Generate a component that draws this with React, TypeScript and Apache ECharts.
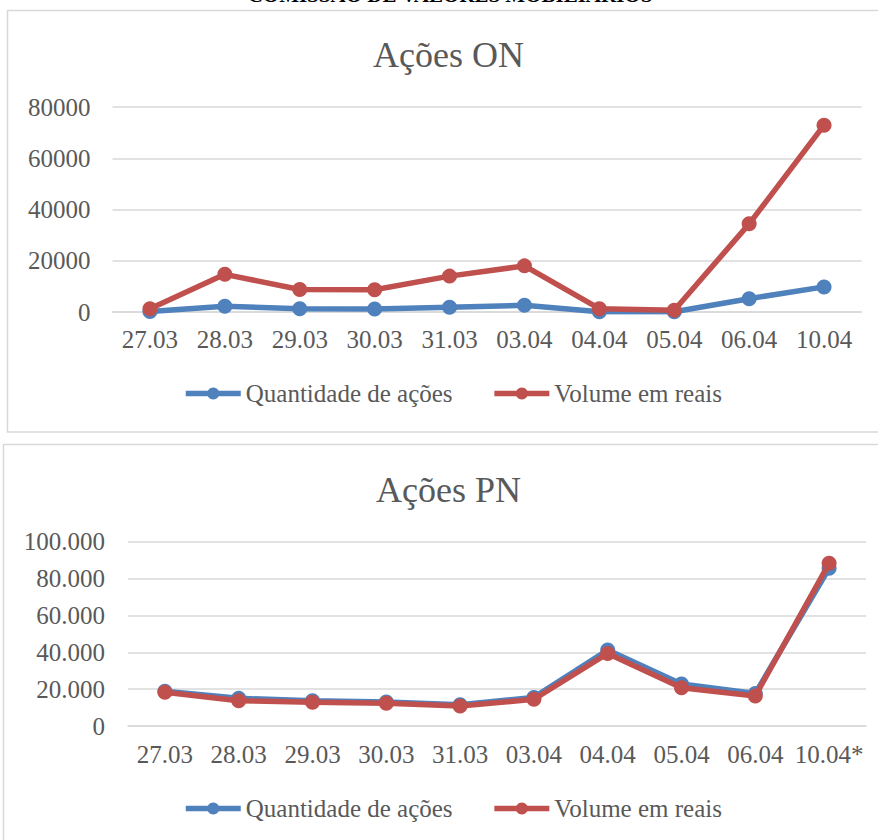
import React, { useEffect, useRef } from "react";
import * as echarts from "echarts";

const categoriesON = ["27.03", "28.03", "29.03", "30.03", "31.03", "03.04", "04.04", "05.04", "06.04", "10.04"];
const quantidadeON = [200, 2200, 1300, 1200, 1900, 2600, 100, 100, 5200, 9800];
const volumeON = [1300, 14700, 8800, 8700, 14000, 18000, 1300, 700, 34400, 72900];

const categoriesPN = ["27.03", "28.03", "29.03", "30.03", "31.03", "03.04", "04.04", "05.04", "06.04", "10.04*"];
const quantidadePN = [18800, 15000, 13700, 13000, 11500, 15500, 41200, 22800, 17700, 85600];
const volumePN = [18300, 13700, 12900, 12300, 10850, 14500, 39400, 20800, 16300, 88300];

const seriesNames = ["Quantidade de ações", "Volume em reais"];
const BLUE = "#4F81BD";
const RED = "#C0504D";
const TEXT = "#595959";
const GRID = "#D9D9D9";
const FONT = "'Liberation Serif', 'Times New Roman', serif";

function fmtDots(v: number) {
  return String(v).replace(/\B(?=(\d{3})+(?!\d))/g, ".");
}

export default function App() {
  const ref = useRef<HTMLDivElement>(null);
  useEffect(() => {
    if (!ref.current) return;
    const chart = echarts.init(ref.current, undefined, { renderer: "svg" });
    const lineSeries = (name: string, data: number[], color: string, idx: number) => ({
      type: "line",
      name,
      data,
      xAxisIndex: idx,
      yAxisIndex: idx,
      symbol: "circle",
      symbolSize: 15,
      showAllSymbol: true,
      lineStyle: { color, width: 5.5 },
      itemStyle: { color },
      z: name === seriesNames[1] ? 3 : 2,
    });
    const xAxisBase = (data: string[], idx: number, margin: number) => ({
      type: "category",
      gridIndex: idx,
      data,
      boundaryGap: true,
      axisLine: { show: true, lineStyle: { color: GRID, width: 1.5 } },
      axisTick: { show: false },
      axisLabel: { color: TEXT, fontSize: 25, fontFamily: FONT, margin, interval: 0 },
    });
    const legendData = [
      { name: seriesNames[0], itemStyle: { color: BLUE }, lineStyle: { color: BLUE, width: 5.5 } },
      { name: seriesNames[1], itemStyle: { color: RED }, lineStyle: { color: RED, width: 5.5 } },
    ];
    const legendBase = (top: number) => ({
      data: legendData,
      left: 183,
      top,
      padding: 0,
      itemWidth: 55,
      itemHeight: 15,
      itemGap: 39,
      lineStyle: { width: 5.5 },
      textStyle: { color: TEXT, fontSize: 25, fontFamily: FONT },
    });
    chart.setOption({
      animation: false,
      backgroundColor: "#ffffff",
      textStyle: { fontFamily: FONT },
      graphic: [
        {
          type: "text",
          x: 450,
          y: 5,
          style: {
            text: "COMISSÃO DE VALORES MOBILIÁRIOS",
            fill: "#000",
            font: "bold 21px 'Liberation Serif', serif",
            textAlign: "center",
            textVerticalAlign: "bottom",
          },
        },
        {
          type: "rect",
          shape: { x: 7.5, y: 10.5, width: 890, height: 421.5 },
          style: { fill: "none", stroke: GRID, lineWidth: 1.5 },
        },
        {
          type: "rect",
          shape: { x: 3.5, y: 444.5, width: 890, height: 420 },
          style: { fill: "none", stroke: GRID, lineWidth: 1.5 },
        },
      ],
      title: [
        {
          text: "Ações ON",
          left: 373,
          top: 37,
          padding: 0,
          textStyle: { color: TEXT, fontSize: 36, fontWeight: "normal", fontFamily: FONT },
        },
        {
          text: "Ações PN",
          left: 376,
          top: 472,
          padding: 0,
          textStyle: { color: TEXT, fontSize: 36, fontWeight: "normal", fontFamily: FONT },
        },
      ],
      legend: [legendBase(381), legendBase(796)],
      grid: [
        { left: 112.5, width: 749, top: 107, height: 205, containLabel: false },
        { left: 128, width: 738, top: 541.7, height: 184.3, containLabel: false },
      ],
      xAxis: [xAxisBase(categoriesON, 0, 15), xAxisBase(categoriesPN, 1, 16)],
      yAxis: [
        {
          type: "value",
          gridIndex: 0,
          min: 0,
          max: 80000,
          interval: 20000,
          axisLine: { show: false },
          axisTick: { show: false },
          splitLine: { lineStyle: { color: GRID, width: 1.5 } },
          axisLabel: {
            color: TEXT,
            fontSize: 25,
            fontFamily: FONT,
            margin: 22,
            formatter: (v: number) => String(v),
          },
        },
        {
          type: "value",
          gridIndex: 1,
          min: 0,
          max: 100000,
          interval: 20000,
          axisLine: { show: false },
          axisTick: { show: false },
          splitLine: { lineStyle: { color: GRID, width: 1.5 } },
          axisLabel: {
            color: TEXT,
            fontSize: 25,
            fontFamily: FONT,
            margin: 23,
            formatter: (v: number) => fmtDots(v),
          },
        },
      ],
      series: [
        lineSeries(seriesNames[0], quantidadeON, BLUE, 0),
        lineSeries(seriesNames[1], volumeON, RED, 0),
        lineSeries(seriesNames[0], quantidadePN, BLUE, 1),
        lineSeries(seriesNames[1], volumePN, RED, 1),
      ],
    });
    return () => chart.dispose();
  }, []);
  return (
    <div
      ref={ref}
      style={{ position: "absolute", left: 0, top: 0, width: 878, height: 840, overflow: "hidden" }}
    />
  );
}
